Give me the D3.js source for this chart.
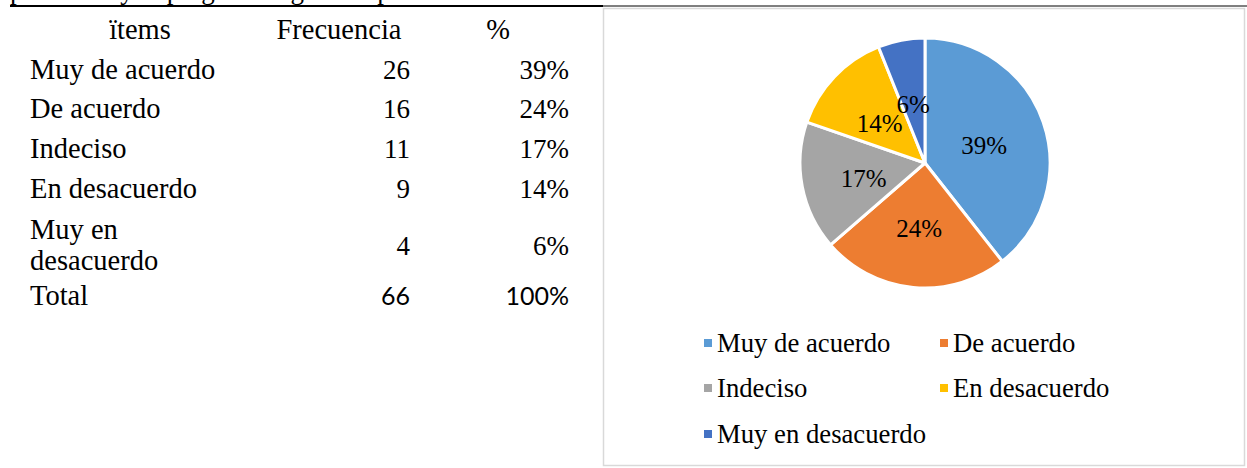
<!DOCTYPE html>
<html><head><meta charset="utf-8">
<script src="https://cdn.jsdelivr.net/npm/d3@7"></script>
<style>html,body{margin:0;padding:0;background:#fff;overflow:hidden}
.serif{font-family:"Liberation Serif","DejaVu Serif",serif}
.sans{font-family:"Liberation Sans Narrow",Lato,"Liberation Sans",sans-serif}</style>
</head><body>
<svg id="c" width="1247" height="468"></svg>
<script>
const categories = ["Muy de acuerdo","De acuerdo","Indeciso","En desacuerdo","Muy en desacuerdo"];
const frecuencia = [26,16,11,9,4];
const porcentajes = ["39%","24%","17%","14%","6%"];
const tableLabels = [["Muy de acuerdo"],["De acuerdo"],["Indeciso"],["En desacuerdo"],["Muy en","desacuerdo"]];
const headers = ["ïtems","Frecuencia","%"];
const totalRow = ["Total","66","100%"];
const colors = ["#5B9BD5","#ED7D31","#A5A5A5","#FFC000","#4472C4"];

const svg = d3.select("#c");

// cut-off text line at top
svg.append("text").attr("class","serif").attr("x",10).attr("y",-1).attr("font-size",27)
  .text("presentan y la pregunta según la opinión de los");
svg.append("line").attr("x1",10).attr("x2",603).attr("y1",6).attr("y2",6).attr("stroke","#000").attr("stroke-width",2);
svg.append("line").attr("x1",603).attr("x2",1247).attr("y1",6).attr("y2",6).attr("stroke","#000").attr("stroke-width",1);

// table
const labelFont = 28.5, numFont = 27;
const hx = [140,339,498];
headers.forEach((h,i)=>svg.append("text").attr("class","serif").attr("x",hx[i]).attr("y",39).attr("text-anchor","middle")
  .attr("font-size",labelFont).attr("fill","#000").text(h));
const rowY = d3.scaleOrdinal().domain(d3.range(6)).range([79,118,158,198,255,305]);
tableLabels.forEach((lines,i)=>{
  const t = svg.append("text").attr("class","serif").attr("font-size",labelFont).attr("fill","#000");
  if(lines.length===1){ t.append("tspan").attr("x",30).attr("y",rowY(i)).text(lines[0]); }
  else { t.append("tspan").attr("x",30).attr("y",rowY(i)-16).text(lines[0]);
         t.append("tspan").attr("x",30).attr("y",rowY(i)+15).text(lines[1]); }
  svg.append("text").attr("class","serif").attr("x",410).attr("y",rowY(i)).attr("text-anchor","end").attr("font-size",numFont).text(frecuencia[i]);
  svg.append("text").attr("class","serif").attr("x",569).attr("y",rowY(i)).attr("text-anchor","end").attr("font-size",numFont).text(porcentajes[i]);
});
svg.append("text").attr("class","serif").attr("x",30).attr("y",rowY(5)).attr("font-size",labelFont).text(totalRow[0]);
svg.append("text").attr("class","sans").attr("x",410).attr("y",rowY(5)).attr("text-anchor","end").attr("font-size",25).text(totalRow[1]);
svg.append("text").attr("class","sans").attr("x",569).attr("y",rowY(5)).attr("text-anchor","end").attr("font-size",25).text(totalRow[2]);

// chart box
svg.append("rect").attr("x",603.5).attr("y",8.5).attr("width",641).attr("height",457).attr("fill","#fff").attr("stroke","#d9d9d9").attr("stroke-width",1.5);

// pie
const cx = 925, cy = 163, R = 125;
const total = d3.sum(frecuencia);
const pie = d3.pie().sort(null).value(d=>d)(frecuencia);
const arc = d3.arc().innerRadius(0).outerRadius(R);
const labelArc = d3.arc().innerRadius(R*0.5).outerRadius(R*0.5);
const g = svg.append("g").attr("transform",`translate(${cx},${cy})`);
g.selectAll("path").data(pie).join("path").attr("d",arc).attr("fill",(d,i)=>colors[i])
  .attr("stroke","#fff").attr("stroke-width",3).attr("stroke-linejoin","round");
g.selectAll("text").data(pie).join("text").attr("class","serif")
  .attr("transform",d=>`translate(${labelArc.centroid(d)})`)
  .attr("text-anchor","middle").attr("dy","0.47em")
  .attr("font-size",25).attr("fill","#000")
  .text(d=>Math.round(d.value/total*100)+"%");

// legend
const legX = [704,940], legY = [343,388,434];
categories.forEach((c,i)=>{
  const lx = legX[i%2], ly = legY[Math.floor(i/2)];
  svg.append("rect").attr("x",lx).attr("y",ly-4).attr("width",8).attr("height",8).attr("fill",colors[i]);
  svg.append("text").attr("class","serif").attr("x",lx+13).attr("y",ly).attr("dy","0.35em").attr("font-size",26.7).attr("fill","#000").text(c);
});
</script>
</body></html>
